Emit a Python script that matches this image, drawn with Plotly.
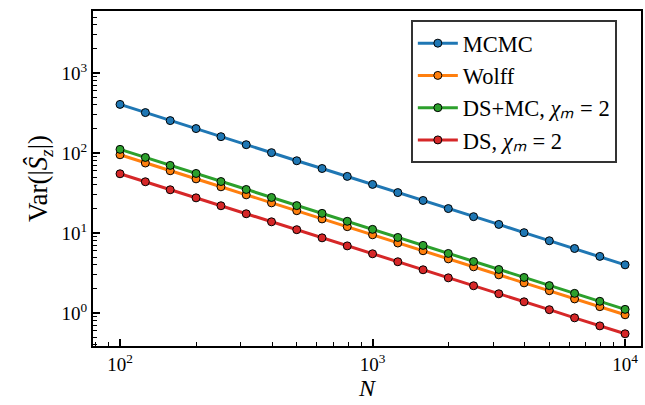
import plotly.graph_objects as go

N = [100, 126, 158, 200, 251, 316, 398, 501, 631, 794, 1000, 1259, 1585, 1995,
     2512, 3162, 3981, 5012, 6310, 7943, 10000]
var_mcmc = [405, 320, 254, 202, 160, 127, 101, 80, 64, 51, 40.5, 32, 25.5, 20.2,
            16, 12.8, 10.1, 8.0, 6.4, 5.1, 4.0]
var_wolff = [95, 75, 60, 47.5, 37.8, 30, 23.8, 19, 15, 12, 9.5, 7.5, 6.0, 4.75,
             3.78, 3.0, 2.38, 1.9, 1.5, 1.2, 0.95]
var_dsmc = [111, 88, 70, 55.5, 44, 35, 27.8, 22, 17.6, 14, 11.1, 8.8, 7.0, 5.55,
            4.4, 3.5, 2.78, 2.2, 1.76, 1.4, 1.11]
var_ds = [55, 43.7, 34.7, 27.5, 21.9, 17.4, 13.8, 11, 8.7, 6.9, 5.5, 4.37, 3.47, 2.75,
          2.19, 1.74, 1.38, 1.1, 0.87, 0.69, 0.55]

series = [
    ("MCMC", var_mcmc, "#1f77b4"),
    ("Wolff", var_wolff, "#ff7f0e"),
    ("DS+MC, <i>χₘ</i>\u00a0=\u00a02", var_dsmc, "#2ca02c"),
    ("DS, <i>χₘ</i>\u00a0=\u00a02", var_ds, "#d62728"),
]

xticks = [100, 1000, 10000]
xticktext = ["10<sup>2</sup>", "10<sup>3</sup>", "10<sup>4</sup>"]
yticks = [1, 10, 100, 1000]
yticktext = ["10<sup>0</sup>", "10<sup>1</sup>", "10<sup>2</sup>", "10<sup>3</sup>"]

fig = go.Figure()
for name, vals, col in series:
    fig.add_trace(go.Scatter(
        x=N, y=vals, name=name, mode="lines+markers",
        line=dict(color=col, width=3),
        marker=dict(color=col, size=8, line=dict(color="black", width=1)),
    ))

font = "Liberation Serif"
fig.update_layout(
    width=645, height=405,
    margin=dict(l=93, r=4, t=11, b=59),
    paper_bgcolor="white", plot_bgcolor="white",
    font=dict(family=font, size=19, color="black"),
    showlegend=True,
    legend=dict(x=0.58, y=0.973, xanchor="left", yanchor="top",
                bordercolor="#333", borderwidth=2, bgcolor="white",
                font=dict(family=font, size=22.5, color="black"),
                tracegroupgap=0, itemwidth=40),
)
fig.update_xaxes(
    type="log", range=[1.893, 4.063], automargin=False,
    tickvals=xticks, ticktext=xticktext,
    ticks="inside", ticklen=7, tickwidth=1.5, tickcolor="black",
    minor=dict(dtick="D1", ticks="inside", ticklen=4, tickwidth=1.2,
               tickcolor="black", showgrid=False),
    showline=True, linewidth=2, linecolor="black", mirror=True,
    showgrid=False, zeroline=False,
    title=dict(text="<i>N</i>", font=dict(family=font, size=24), standoff=5),
    tickfont=dict(family=font, size=19),
)
fig.update_yaxes(
    type="log", range=[-0.4125, 3.775], automargin=False,
    tickvals=yticks, ticktext=yticktext,
    ticks="inside", ticklen=7, tickwidth=1.5, tickcolor="black",
    minor=dict(dtick="D1", ticks="inside", ticklen=4, tickwidth=1.2,
               tickcolor="black", showgrid=False),
    showline=True, linewidth=2, linecolor="black", mirror=True,
    showgrid=False, zeroline=False,
    title=dict(text="Var(|<i>Ŝ<sub>z</sub></i>|)", font=dict(family=font, size=27), standoff=6),
    tickfont=dict(family=font, size=19),
)
fig.write_html("out.html", config={"displayModeBar": False},
               post_script="document.body.style.margin='0';")
